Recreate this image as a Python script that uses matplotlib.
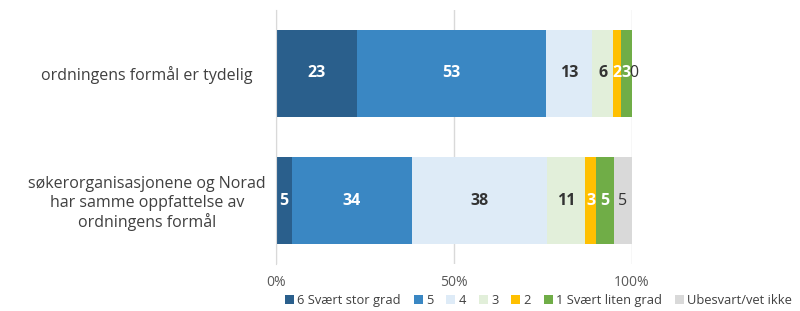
import matplotlib.pyplot as plt
import numpy as np

plt.rcParams['font.family'] = ['Open Sans', 'DejaVu Sans']

# data
categories = ['ordningens formål er tydelig',
              'søkerorganisasjonene og Norad\nhar samme oppfattelse av\nordningens formål']
series = ['6 Svært stor grad', '5', '4', '3', '2', '1 Svært liten grad', 'Ubesvart/vet ikke']
values = np.array([
    [22.8, 53.0, 13.0, 5.9, 2.3, 2.9, 0.1],
    [4.5, 33.7, 37.8, 10.8, 3.1, 5.0, 5.1],
])
labels = [
    ['23', '53', '13', '6', '2', '3', '0'],
    ['5', '34', '38', '11', '3', '5', '5'],
]
colors = ['#2A5F8C', '#3A87C3', '#DEEBF7', '#E2EFDA', '#FFC000', '#70AD47', '#D9D9D9']
txt_col = ['white', 'white', '#333333', '#333333', 'white', 'white', '#333333']
txt_bold = [True, True, True, True, True, True, False]

fig = plt.figure(figsize=(8, 3.11), dpi=100)
ax = fig.add_axes([0.345, 0.151, 0.445, 0.817])

y = np.arange(len(categories))
left = np.zeros(len(categories))
for j, name in enumerate(series):
    ax.barh(y, values[:, j], left=left, height=0.68, color=colors[j], label=name)
    for i in range(len(categories)):
        c = left[i] + values[i, j] / 2
        if j == 6 and i == 0:
            c = left[i] + 0.6
        ax.text(c, y[i], labels[i][j], ha='center', va='center', fontsize=11.5,
                color=txt_col[j], fontweight='bold' if txt_bold[j] else 'normal')
    left += values[:, j]

ax.set_xlim(0, 100)
ax.set_ylim(1.5, -0.5)
ax.set_xticks([0, 50, 100])
ax.set_xticklabels(['0%', '50%', '100%'], color='#595959', fontsize=10)
ax.set_yticks(y)
ax.set_yticklabels(categories, color='#404040', fontsize=11.5, ha='center')
ax.tick_params(axis='y', length=0, pad=93)
ax.tick_params(axis='x', length=0, pad=8)
ax.grid(axis='x', color='#D9D9D9', lw=1)
ax.set_axisbelow(True)
for s in ['top', 'right', 'bottom']:
    ax.spines[s].set_visible(False)
ax.spines['left'].set_color('#D9D9D9')

fig.legend(loc='center left', bbox_to_anchor=(0.356, 0.035), ncol=7, frameon=False,
           fontsize=9.3, handlelength=0.7, handleheight=0.7, handletextpad=0.25,
           columnspacing=1.0, labelcolor='#404040', borderaxespad=0, borderpad=0)

fig.savefig('out.png', dpi=100)
